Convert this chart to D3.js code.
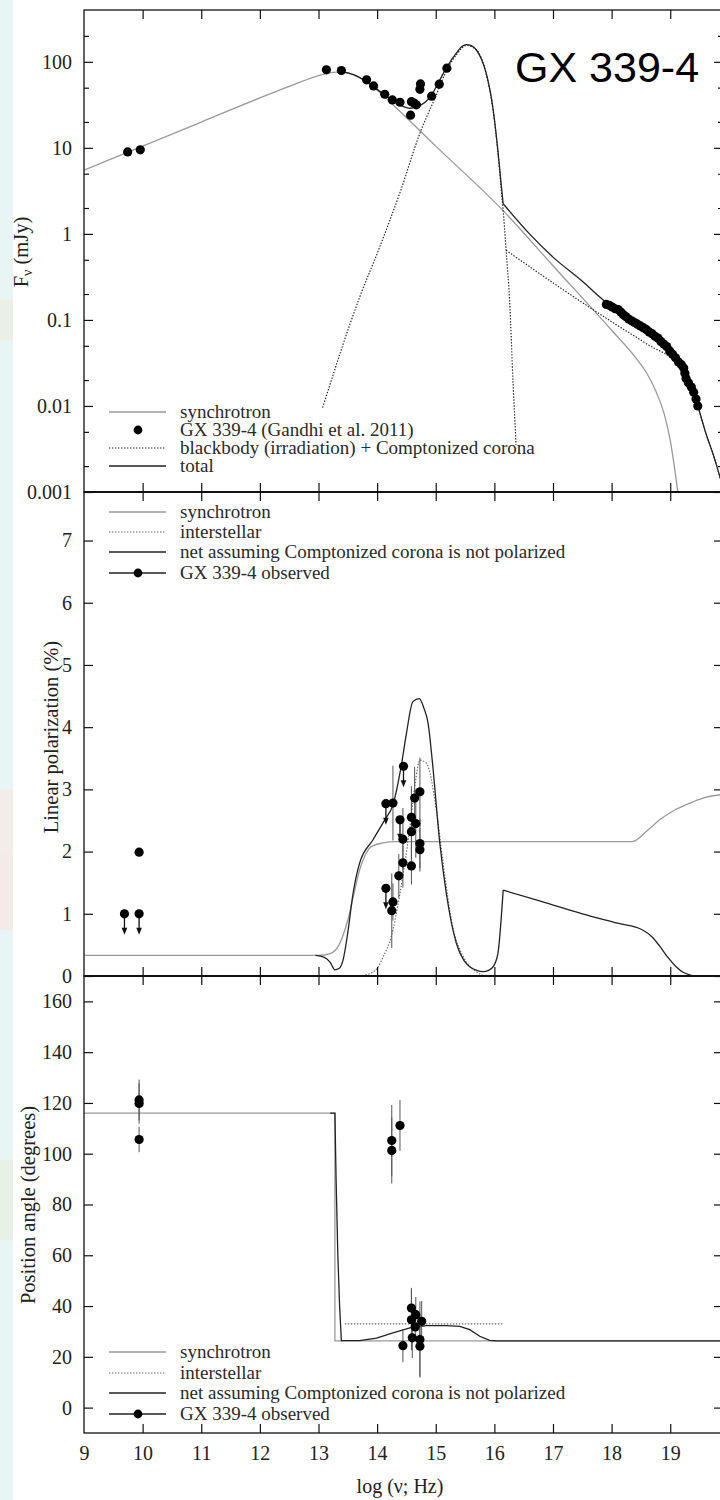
<!DOCTYPE html>
<html>
<head>
<meta charset="utf-8">
<script src="https://cdn.jsdelivr.net/npm/d3@7"></script>
<style>
  body { margin: 0; background: #fff; }
  svg { display: block; font-family: "Liberation Serif", "DejaVu Serif", serif; }
  svg text { font-family: "Liberation Serif", "DejaVu Serif", serif; }
  svg text.sans { font-family: "Liberation Sans", Arial, sans-serif; }
</style>
</head>
<body>
<div id="wrapper"></div>
<script>
// ---- panel 1: spectrum (log nu in Hz, log10 of F_nu in mJy) ----
const sedNu = [9.745, 9.96, 13.135, 13.39, 13.82, 13.94, 14.13, 14.26, 14.39, 14.57, 14.585, 14.63, 14.67,
  14.73, 14.74, 14.93, 15.06, 15.19,
  17.91, 17.96, 18.01, 18.06, 18.11, 18.16, 18.20, 18.24, 18.29, 18.34, 18.39, 18.44, 18.49, 18.54,
  18.59, 18.64, 18.69, 18.74, 18.79, 18.84, 18.89, 18.94, 18.99, 19.04, 19.09, 19.14, 19.19, 19.23,
  19.25, 19.27, 19.31, 19.36, 19.40, 19.44, 19.47]
const sedLogF = [0.953, 0.977, 1.907, 1.899, 1.79, 1.72, 1.623, 1.557, 1.53, 1.38, 1.537, 1.52, 1.50,
  1.68, 1.743, 1.60, 1.74, 1.926,
  -0.82, -0.83, -0.85, -0.87, -0.88, -0.91, -0.94, -0.96, -0.99, -1.01, -1.03, -1.05, -1.07, -1.09,
  -1.11, -1.14, -1.16, -1.19, -1.21, -1.25, -1.28, -1.31, -1.36, -1.40, -1.44, -1.49, -1.52, -1.56,
  -1.62, -1.68, -1.73, -1.78, -1.84, -1.92, -2.00]

const syncNu = [9.0, 10.0, 11.0, 12.0, 12.6, 13.0, 13.3, 13.5, 13.71, 14.0, 14.27, 15.0, 16.15, 17.0, 18.0,
  18.4, 18.6, 18.75, 18.9, 19.0, 19.13]
const syncLogF = [0.74, 1.02, 1.30, 1.58, 1.74, 1.84, 1.88, 1.87, 1.81, 1.67, 1.50, 1.02, 0.27, -0.37, -1.12,
  -1.43, -1.62, -1.82, -2.1, -2.4, -3.0]

// total has a sharp corner at log nu = 16.15 (index 20)
const totalNu = [13.4, 13.6, 13.82, 14.13, 14.39, 14.56, 14.73, 14.93, 15.07, 15.2, 15.35, 15.45, 15.52, 15.6,
  15.69, 15.78, 15.86, 15.98, 16.06, 16.12, 16.15, 16.6, 17.0, 17.5, 17.88, 18.19, 18.42, 18.65, 18.82,
  18.99, 19.16, 19.3, 19.47, 19.6, 19.75, 19.9]
const totalLogF = [1.89, 1.85, 1.77, 1.615, 1.5, 1.46, 1.49, 1.615, 1.79, 1.95, 2.1, 2.18, 2.2, 2.19,
  2.14, 2.03, 1.87, 1.44, 0.97, 0.55, 0.35, 0.0, -0.27, -0.55, -0.78, -0.93, -1.05, -1.17, -1.25,
  -1.36, -1.5, -1.68, -2.0, -2.3, -2.6, -2.95]
const totalCorner = 20

const bbNu = [13.07, 13.7, 14.04, 14.4, 14.73, 15.0, 15.2, 15.35, 15.52, 15.69, 15.86, 15.98, 16.06, 16.12,
  16.17, 16.2, 16.26, 16.32, 16.37]
const bbLogF = [-2.02, -0.74, -0.16, 0.5, 1.17, 1.6, 1.92, 2.08, 2.19, 2.14, 1.86, 1.43, 0.95, 0.5,
  0.1, -0.19, -0.78, -1.75, -2.45]

const coronaNu = [16.2, 17.11, 18.02, 18.6, 19.16, 19.3, 19.47, 19.6, 19.75, 19.9]
const coronaLogF = [-0.19, -0.62, -1.03, -1.28, -1.55, -1.7, -2.0, -2.3, -2.6, -2.95]

// ---- panel 2: linear polarization (%) ----
const polSyncNu = [9.0, 13.0, 13.2, 13.35, 13.5, 13.6, 13.7, 13.8, 13.9, 14.1, 14.3, 18.35, 18.6, 18.82,
  19.1, 19.39, 19.6, 19.9]
const polSyncVal = [0.33, 0.33, 0.36, 0.5, 0.9, 1.3, 1.7, 1.95, 2.08, 2.14, 2.16, 2.16, 2.33, 2.51,
  2.68, 2.8, 2.87, 2.92]

const polIsmNu = [13.7, 13.9, 14.0, 14.1, 14.24, 14.39, 14.56, 14.65, 14.73, 14.84, 15.01, 15.12, 15.29,
  15.47, 15.69, 15.8]
const polIsmVal = [0.0, 0.05, 0.12, 0.3, 0.63, 1.33, 2.4, 3.1, 3.47, 3.42, 2.67, 1.86, 0.79,
  0.31, 0.07, 0.01]

// net has a sharp corner at log nu = 16.15 (index 29)
const polNetNu = [12.95, 13.1, 13.2, 13.28, 13.35, 13.42, 13.5, 13.59, 13.7, 13.93, 14.13, 14.27, 14.41,
  14.5, 14.61, 14.72, 14.8, 14.87, 14.94, 15.07, 15.18, 15.35, 15.48, 15.58, 15.7, 15.81, 15.9, 15.98,
  16.06, 16.15, 16.8, 17.5, 18.1, 18.53, 18.7, 18.82, 18.95, 19.1, 19.22, 19.33, 19.4]
const polNetVal = [0.33, 0.3, 0.22, 0.1, 0.12, 0.26, 0.7, 1.33, 1.81, 2.19, 2.51, 2.75, 3.37,
  3.9, 4.41, 4.46, 4.3, 4.06, 3.47, 2.13, 1.33, 0.53, 0.25, 0.15, 0.09, 0.07, 0.09, 0.15,
  0.36, 1.38, 1.2, 1.0, 0.85, 0.74, 0.62, 0.48, 0.31, 0.15, 0.06, 0.02, 0.0]
const polNetCorner = 29

const polObsNu = [9.69, 9.94, 9.94, 14.15, 14.27, 14.45, 14.39, 14.44, 14.585, 14.66, 14.585, 14.64, 14.73,
  14.73, 14.73, 14.44, 14.37, 14.585, 14.15, 14.27, 14.25]
const polObsVal = [1.0, 1.0, 1.99, 2.77, 2.78, 3.37, 2.51, 2.2, 2.55, 2.45, 2.32, 2.86, 2.96,
  2.13, 2.03, 1.82, 1.61, 1.77, 1.41, 1.19, 1.05]
const polObsErr = [0, 0, 0, 0, 0.6, 0, 0, 0.5, 0.5, 0.55, 0.45, 0.5, 0.55,
  0.4, 0.35, 0.4, 0.35, 0.3, 0, 0.3, 0.6]
const polObsLimit = [1, 1, 0, 1, 0, 1, 1, 0, 0, 0, 0, 0, 0,
  0, 0, 0, 0, 0, 1, 0, 0]

// ---- panel 3: position angle (degrees) ----
const paSyncNu = [9.0, 13.28, 13.28, 19.9]
const paSyncVal = [116, 116, 26.3, 26.3]

const paIsmNu = [13.45, 16.15]
const paIsmVal = [33, 33]

const paNetNu = [13.2, 13.28, 13.3, 13.33, 13.36, 13.39, 13.7, 13.99, 14.27, 14.56, 14.84, 15.18, 15.41,
  15.58, 15.75, 15.92, 16.03, 19.9]
const paNetVal = [116, 116, 90, 60, 40, 26.4, 26.4, 27.4, 29.4, 31.4, 32.3, 32.3, 32.0,
  30.7, 28.1, 26.5, 26.3, 26.3]

const paObsNu = [9.94, 9.94, 9.94, 14.25, 14.25, 14.39, 14.44, 14.585, 14.585, 14.6, 14.66, 14.65, 14.76,
  14.73, 14.73]
const paObsVal = [121.2, 119.8, 105.6, 105.2, 101.3, 111.1, 24.4, 39.2, 34.6, 27.5, 36.6, 31.8, 34,
  26.8, 24.2]
const paObsErr = [8, 8, 5, 14, 13, 10, 6.5, 8, 12, 8, 7, 5, 8,
  15, 12]

const xTicks = [9, 10, 11, 12, 13, 14, 15, 16, 17, 18, 19]
const fluxTicks = [0.001, 0.01, 0.1, 1, 10, 100]
const fluxMinor = [2, 5]
const polTicks = [0, 1, 2, 3, 4, 5, 6, 7]
const paTicks = [0, 20, 40, 60, 80, 100, 120, 140, 160]

function drawChart() {
  const dims = { width: 720, height: 1500, left: 84, right: 723 }
  const panels = [
    { top: 10, bottom: 492 },
    { top: 492, bottom: 976 },
    { top: 976, bottom: 1433 }
  ]

  const svg = d3.select("#wrapper").append("svg")
    .attr("width", dims.width)
    .attr("height", dims.height)

  // faded page background strip on the left
  svg.append("rect").attr("x", 0).attr("y", 0).attr("width", 13).attr("height", 1500).attr("fill", "#e8f5f5")
  const patches = [[300, 40, "#ebf0e4"], [790, 60, "#f2ede8"], [850, 80, "#f3ebe5"], [1160, 80, "#e8f1e6"]]
  patches.forEach(p => svg.append("rect").attr("x", 0).attr("y", p[0]).attr("width", 13).attr("height", p[1]).attr("fill", p[2]))

  // scales
  const x = d3.scaleLinear().domain([9, 19.9]).range([dims.left, dims.right])
  const y1 = d3.scaleLog().domain([0.001, 400]).range([panels[0].bottom, panels[0].top])
  const y2 = d3.scaleLinear().domain([0, 7.78]).range([panels[1].bottom, panels[1].top])
  const y3 = d3.scaleLinear().domain([-10, 170]).range([panels[2].bottom, panels[2].top])

  const defs = svg.append("defs")
  panels.forEach((p, i) => {
    defs.append("clipPath").attr("id", "clip" + i)
      .append("rect")
      .attr("x", dims.left).attr("y", p.top)
      .attr("width", dims.right - dims.left).attr("height", p.bottom - p.top)
  })

  const zip = (a, b) => a.map((v, i) => [v, b[i]])
  const logLine = d3.line().x(d => x(d[0])).y(d => y1(Math.pow(10, d[1]))).curve(d3.curveMonotoneX)
  const polLine = d3.line().x(d => x(d[0])).y(d => y2(d[1])).curve(d3.curveMonotoneX)
  const paLine = d3.line().x(d => x(d[0])).y(d => y3(d[1]))

  const styles = {
    sync: { stroke: "#9a9a9a", width: 1.3, dash: null },
    total: { stroke: "#222", width: 1.3, dash: null },
    dotted: { stroke: "#222", width: 1.2, dash: "1.4,1.6" },
    ism: { stroke: "#666", width: 1.2, dash: "1.4,1.6" }
  }
  const drawPath = (g, data, gen, st) => g.append("path")
    .attr("d", gen(data))
    .attr("fill", "none")
    .attr("stroke", st.stroke)
    .attr("stroke-width", st.width)
    .attr("stroke-dasharray", st.dash)

  // ---- panel 1 ----
  const g1 = svg.append("g").attr("clip-path", "url(#clip0)")
  drawPath(g1, zip(syncNu, syncLogF), logLine, styles.sync)
  drawPath(g1, zip(bbNu, bbLogF), logLine, styles.dotted)
  drawPath(g1, zip(coronaNu, coronaLogF), logLine, styles.dotted)
  const total = zip(totalNu, totalLogF)
  drawPath(g1, total.slice(0, totalCorner + 1), logLine, styles.total)
  drawPath(g1, total.slice(totalCorner), logLine, styles.total)
  g1.selectAll("circle.sed")
    .data(zip(sedNu, sedLogF))
    .enter().append("circle")
      .attr("cx", d => x(d[0]))
      .attr("cy", d => y1(Math.pow(10, d[1])))
      .attr("r", 4.6)
      .attr("fill", "#000")

  // ---- panel 2 ----
  const g2 = svg.append("g").attr("clip-path", "url(#clip1)")
  drawPath(g2, zip(polSyncNu, polSyncVal), polLine, styles.sync)
  drawPath(g2, zip(polIsmNu, polIsmVal), polLine, styles.ism)
  const net = zip(polNetNu, polNetVal)
  drawPath(g2, net.slice(0, polNetCorner + 1), polLine, styles.total)
  drawPath(g2, net.slice(polNetCorner), polLine, styles.total)
  const polObs = polObsNu.map((n, i) => ({ nu: n, v: polObsVal[i], err: polObsErr[i], lim: polObsLimit[i] }))
  g2.selectAll("line.err")
    .data(polObs.filter(d => d.err > 0))
    .enter().append("line")
      .attr("x1", d => x(d.nu)).attr("x2", d => x(d.nu))
      .attr("y1", d => y2(d.v - d.err)).attr("y2", d => y2(d.v + d.err))
      .attr("stroke", "#555").attr("stroke-width", 1)
  const lims = polObs.filter(d => d.lim)
  g2.selectAll("line.lim")
    .data(lims)
    .enter().append("line")
      .attr("x1", d => x(d.nu)).attr("x2", d => x(d.nu))
      .attr("y1", d => y2(d.v)).attr("y2", d => y2(d.v) + 16)
      .attr("stroke", "#111").attr("stroke-width", 1.3)
  g2.selectAll("path.arrow")
    .data(lims)
    .enter().append("path")
      .attr("d", d => {
        const cx = x(d.nu), cy = y2(d.v)
        return `M${cx - 2.8},${cy + 14} L${cx + 2.8},${cy + 14} L${cx},${cy + 21} Z`
      })
      .attr("fill", "#111")
  g2.selectAll("circle.pol")
    .data(polObs)
    .enter().append("circle")
      .attr("cx", d => x(d.nu))
      .attr("cy", d => y2(d.v))
      .attr("r", 4.6)
      .attr("fill", "#000")

  // ---- panel 3 ----
  const g3 = svg.append("g").attr("clip-path", "url(#clip2)")
  drawPath(g3, zip(paSyncNu, paSyncVal), paLine, styles.sync)
  drawPath(g3, zip(paIsmNu, paIsmVal), paLine, styles.ism)
  drawPath(g3, zip(paNetNu, paNetVal), paLine, styles.total)
  const paObs = paObsNu.map((n, i) => ({ nu: n, v: paObsVal[i], err: paObsErr[i] }))
  g3.selectAll("line.err")
    .data(paObs)
    .enter().append("line")
      .attr("x1", d => x(d.nu)).attr("x2", d => x(d.nu))
      .attr("y1", d => y3(d.v - d.err)).attr("y2", d => y3(d.v + d.err))
      .attr("stroke", "#555").attr("stroke-width", 1)
  g3.selectAll("circle.pa")
    .data(paObs)
    .enter().append("circle")
      .attr("cx", d => x(d.nu))
      .attr("cy", d => y3(d.v))
      .attr("r", 4.6)
      .attr("fill", "#000")

  // ---- axes ----
  const tickStyle = sel => {
    sel.attr("font-family", null).attr("font-size", null)
    sel.select(".domain").remove()
    sel.selectAll("line").attr("stroke", "#111").attr("stroke-width", 1.2)
    sel.selectAll("text").attr("fill", "#222").style("font-size", "20px")
  }
  const yScales = [y1, y2, y3]
  const yTickSets = [fluxTicks, polTicks, paTicks]

  panels.forEach((p, i) => {
    // x ticks top (pointing down) and bottom (pointing up)
    svg.append("g").attr("transform", `translate(0,${p.top})`)
      .call(d3.axisTop(x).tickValues(xTicks.slice(1)).tickSize(-9).tickSizeOuter(0).tickFormat(""))
      .call(tickStyle)
    const bottomAxis = d3.axisBottom(x).tickValues(xTicks.slice(1)).tickSize(-9).tickSizeOuter(0).tickPadding(13)
    if (i < 2) bottomAxis.tickFormat("")
    svg.append("g").attr("transform", `translate(0,${p.bottom})`)
      .call(bottomAxis)
      .call(tickStyle)

    const ys = yScales[i]
    const fmt = i === 0 ? (d => String(d)) : (d => d)
    svg.append("g").attr("transform", `translate(${dims.left},0)`)
      .call(d3.axisLeft(ys).tickValues(yTickSets[i]).tickSize(-9).tickSizeOuter(0).tickPadding(12).tickFormat(fmt))
      .call(tickStyle)
    svg.append("g").attr("transform", `translate(${dims.right},0)`)
      .call(d3.axisRight(ys).tickValues(yTickSets[i]).tickSize(-9).tickSizeOuter(0).tickFormat(""))
      .call(tickStyle)

    // frame
    svg.append("rect")
      .attr("x", dims.left).attr("y", p.top)
      .attr("width", dims.right - dims.left).attr("height", p.bottom - p.top)
      .attr("fill", "none").attr("stroke", "#111").attr("stroke-width", 1.3)
  })

  // panel boundaries are drawn a little heavier
  svg.selectAll("line.boundary")
    .data([panels[0].bottom, panels[1].bottom])
    .enter().append("line")
      .attr("x1", dims.left).attr("x2", dims.right)
      .attr("y1", d => d).attr("y2", d => d)
      .attr("stroke", "#111").attr("stroke-width", 2.2)

  // "9" label at the left corner of the bottom axis
  svg.append("g").attr("transform", `translate(0,${panels[2].bottom})`)
    .call(d3.axisBottom(x).tickValues([9]).tickSize(0).tickPadding(13))
    .call(tickStyle)

  // minor log ticks for the flux panel
  const minors = []
  fluxTicks.concat([1000]).forEach(dec => fluxMinor.forEach(m => {
    const v = dec * m
    if (v < 400) minors.push(v)
  }))
  svg.append("g").attr("transform", `translate(${dims.left},0)`)
    .call(d3.axisRight(y1).tickValues(minors).tickSize(5).tickFormat(""))
    .call(tickStyle)
  svg.append("g").attr("transform", `translate(${dims.right},0)`)
    .call(d3.axisLeft(y1).tickValues(minors).tickSize(5).tickFormat(""))
    .call(tickStyle)

  // ---- legends ----
  const legendText = (y, txt) => svg.append("text")
    .attr("x", 180).attr("y", y + 6)
    .attr("fill", "#2a2a2a")
    .style("font-size", "19px")
    .text(txt)
  const legendLine = (y, st) => svg.append("line")
    .attr("x1", 109).attr("x2", 166).attr("y1", y).attr("y2", y)
    .attr("stroke", st.stroke).attr("stroke-width", st.width)
    .attr("stroke-dasharray", st.dash)
  const legendDot = y => svg.append("circle").attr("cx", 138).attr("cy", y).attr("r", 4.4).attr("fill", "#000")

  const leg1 = [412, 430, 448, 466]
  legendLine(leg1[0], styles.sync); legendText(leg1[0], "synchrotron")
  legendDot(leg1[1]); legendText(leg1[1], "GX 339-4 (Gandhi et al. 2011)")
  legendLine(leg1[2], styles.dotted); legendText(leg1[2], "blackbody (irradiation) + Comptonized corona")
  legendLine(leg1[3], styles.total); legendText(leg1[3], "total")

  const polLegend = rows => {
    legendLine(rows[0], styles.sync); legendText(rows[0], "synchrotron")
    legendLine(rows[1], styles.ism); legendText(rows[1], "interstellar")
    legendLine(rows[2], styles.total); legendText(rows[2], "net assuming Comptonized corona is not polarized")
    legendLine(rows[3], styles.total); legendDot(rows[3]); legendText(rows[3], "GX 339-4 observed")
  }
  polLegend([512, 532, 552, 573])
  polLegend([1352, 1373, 1393, 1414])

  // ---- axis titles ----
  const yTitle = (cx, cy) => svg.append("text")
    .attr("transform", `translate(${cx},${cy}) rotate(-90)`)
    .attr("text-anchor", "middle")
    .attr("fill", "#222")
    .style("font-size", "20.5px")
  const t1 = yTitle(28, 252)
  t1.append("tspan").text("F")
  t1.append("tspan").attr("dy", 4).style("font-size", "14px").text("ν")
  t1.append("tspan").attr("dy", -4).text(" (mJy)")
  yTitle(58, 737).text("Linear polarization (%)")
  yTitle(35, 1205).text("Position angle (degrees)")

  svg.append("text")
    .attr("x", 400).attr("y", 1493)
    .attr("text-anchor", "middle")
    .attr("fill", "#222")
    .style("font-size", "20px")
    .text("log (ν; Hz)")

  svg.append("text")
    .attr("class", "sans")
    .attr("x", 515).attr("y", 82)
    .attr("fill", "#000")
    .style("font-size", "43px")
    .text("GX 339-4")
}
drawChart()
</script>
</body>
</html>
